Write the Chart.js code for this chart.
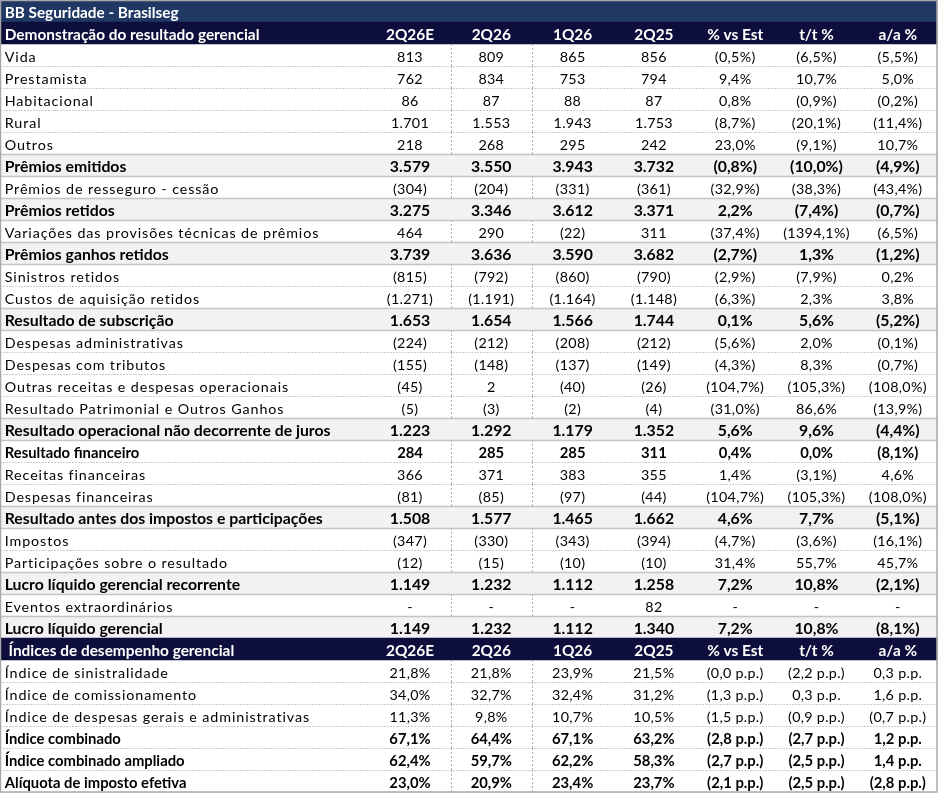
<!DOCTYPE html>
<html><head><meta charset="utf-8">
<script src="https://cdn.jsdelivr.net/npm/chart.js@4.4.1/dist/chart.umd.min.js"></script>
<style>html,body{margin:0;padding:0;background:#fff}#c{display:block}</style>
</head><body>
<canvas id="c" width="940" height="794"></canvas>
<script>
// ---------- DATA ----------
const tableTitle = 'BB Seguridade - Brasilseg';
const section1Title = 'Demonstração do resultado gerencial';
const section2Title = ' Índices de desempenho gerencial';
const columns = ['2Q26E', '2Q26', '1Q26', '2Q25', '% vs Est', 't/t %', 'a/a %'];

const incomeLabels = [
  'Vida', 'Prestamista', 'Habitacional', 'Rural', 'Outros', 'Prêmios emitidos',
  'Prêmios de resseguro - cessão', 'Prêmios retidos', 'Variações das provisões técnicas de prêmios',
  'Prêmios ganhos retidos', 'Sinistros retidos', 'Custos de aquisição retidos', 'Resultado de subscrição',
  'Despesas administrativas', 'Despesas com tributos', 'Outras receitas e despesas operacionais',
  'Resultado Patrimonial e Outros Ganhos', 'Resultado operacional não decorrente de juros',
  'Resultado financeiro', 'Receitas financeiras', 'Despesas financeiras',
  'Resultado antes dos impostos e participações', 'Impostos', 'Participações sobre o resultado',
  'Lucro líquido gerencial recorrente', 'Eventos extraordinários', 'Lucro líquido gerencial'
];
const income2Q26E = ['813','762','86','1.701','218','3.579','(304)','3.275','464','3.739','(815)','(1.271)','1.653','(224)','(155)','(45)','(5)','1.223','284','366','(81)','1.508','(347)','(12)','1.149','-','1.149'];
const income2Q26  = ['809','834','87','1.553','268','3.550','(204)','3.346','290','3.636','(792)','(1.191)','1.654','(212)','(148)','2','(3)','1.292','285','371','(85)','1.577','(330)','(15)','1.232','-','1.232'];
const income1Q26  = ['865','753','88','1.943','295','3.943','(331)','3.612','(22)','3.590','(860)','(1.164)','1.566','(208)','(137)','(40)','(2)','1.179','285','383','(97)','1.465','(343)','(10)','1.112','-','1.112'];
const income2Q25  = ['856','794','87','1.753','242','3.732','(361)','3.371','311','3.682','(790)','(1.148)','1.744','(212)','(149)','(26)','(4)','1.352','311','355','(44)','1.662','(394)','(10)','1.258','82','1.340'];
const incomeVsEst = ['(0,5%)','9,4%','0,8%','(8,7%)','23,0%','(0,8%)','(32,9%)','2,2%','(37,4%)','(2,7%)','(2,9%)','(6,3%)','0,1%','(5,6%)','(4,3%)','(104,7%)','(31,0%)','5,6%','0,4%','1,4%','(104,7%)','4,6%','(4,7%)','31,4%','7,2%','-','7,2%'];
const incomeQoQ   = ['(6,5%)','10,7%','(0,9%)','(20,1%)','(9,1%)','(10,0%)','(38,3%)','(7,4%)','(1394,1%)','1,3%','(7,9%)','2,3%','5,6%','2,0%','8,3%','(105,3%)','86,6%','9,6%','0,0%','(3,1%)','(105,3%)','7,7%','(3,6%)','55,7%','10,8%','-','10,8%'];
const incomeYoY   = ['(5,5%)','5,0%','(0,2%)','(11,4%)','10,7%','(4,9%)','(43,4%)','(0,7%)','(6,5%)','(1,2%)','0,2%','3,8%','(5,2%)','(0,1%)','(0,7%)','(108,0%)','(13,9%)','(4,4%)','(8,1%)','4,6%','(108,0%)','(5,1%)','(16,1%)','45,7%','(2,1%)','-','(8,1%)'];

const ratioLabels = [
  'Índice de sinistralidade', 'Índice de comissionamento', 'Índice de despesas gerais e administrativas',
  'Índice combinado', 'Índice combinado ampliado', 'Alíquota de imposto efetiva'
];
const ratio2Q26E = ['21,8%','34,0%','11,3%','67,1%','62,4%','23,0%'];
const ratio2Q26  = ['21,8%','32,7%','9,8%','64,4%','59,7%','20,9%'];
const ratio1Q26  = ['23,9%','32,4%','10,7%','67,1%','62,2%','23,4%'];
const ratio2Q25  = ['21,5%','31,2%','10,5%','63,2%','58,3%','23,7%'];
const ratioVsEst = ['(0,0 p.p.)','(1,3 p.p.)','(1,5 p.p.)','(2,8 p.p.)','(2,7 p.p.)','(2,1 p.p.)'];
const ratioQoQ   = ['(2,2 p.p.)','0,3 p.p.','(0,9 p.p.)','(2,7 p.p.)','(2,5 p.p.)','(2,5 p.p.)'];
const ratioYoY   = ['0,3 p.p.','1,6 p.p.','(0,7 p.p.)','1,2 p.p.','1,4 p.p.','(2,8 p.p.)'];

// ---------- STYLES (row kinds: n normal, g bold shaded, b bold) ----------
const incomeKinds = ['n','n','n','n','n','g','n','g','n','g','n','n','g','n','n','n','n','g','b','n','n','g','n','n','g','n','g'];
const ratioKinds  = ['n','n','n','b','b','b'];

const FILL = { t: '#203864', h: '#0e0e3c', g: '#f2f2f2' };
const FONT = 'Lato';
const X_MIN = -5.043, X_MAX = 6.519;   // linear x scale: column index units
const LABEL_POS = -4.985;              // label column anchor
const FRAME_RIGHT = 6.482;

// ---------- BUILD ROWS ----------
const rows = [];
rows.push({ label: tableTitle, kind: 't', cells: [] });
rows.push({ label: section1Title, kind: 'h', cells: columns });
incomeLabels.forEach((l, i) => rows.push({ label: l, kind: incomeKinds[i],
  cells: [income2Q26E[i], income2Q26[i], income1Q26[i], income2Q25[i], incomeVsEst[i], incomeQoQ[i], incomeYoY[i]] }));
rows.push({ label: section2Title, kind: 'h', cells: columns });
ratioLabels.forEach((l, i) => rows.push({ label: l, kind: ratioKinds[i],
  cells: [ratio2Q26E[i], ratio2Q26[i], ratio1Q26[i], ratio2Q25[i], ratioVsEst[i], ratioQoQ[i], ratioYoY[i]] }));

const tablePlugin = {
  id: 'tableText',
  afterDatasetsDraw(chart) {
    const ctx = chart.ctx, xs = chart.scales.x, ys = chart.scales.y;
    const n = rows.length;
    const rowH = Math.abs(ys.getPixelForValue(1) - ys.getPixelForValue(0));
    const left = xs.getPixelForValue(X_MIN) + 0.5, right = xs.getPixelForValue(FRAME_RIGHT);
    ctx.save();
    // horizontal separators
    for (let i = 0; i < n - 1; i++) {
      const a = rows[i].kind, b = rows[i + 1].kind;
      if (a === 't' || a === 'h' || b === 't' || b === 'h') continue;
      const y = Math.round((ys.getPixelForValue(i) + ys.getPixelForValue(i + 1)) / 2) + 0.5;
      ctx.beginPath();
      if (a === 'g' || b === 'g') { ctx.setLineDash([]); ctx.strokeStyle = '#c4c4c4'; ctx.lineWidth = 1.5; }
      else { ctx.setLineDash([1, 2]); ctx.strokeStyle = '#9a9a9a'; ctx.lineWidth = 1; }
      ctx.moveTo(left, y); ctx.lineTo(right, y); ctx.stroke();
    }
    // vertical dotted lines between first columns (white rows)
    ctx.setLineDash([2, 2]); ctx.strokeStyle = '#b0b0b0'; ctx.lineWidth = 1;
    [0.5, 1.5].forEach(v => {
      const x = Math.round(xs.getPixelForValue(v)) + 0.5;
      rows.forEach((r, i) => {
        if (r.kind !== 'n' && r.kind !== 'b') return;
        const yc = ys.getPixelForValue(i);
        ctx.beginPath(); ctx.moveTo(x, yc - rowH / 2); ctx.lineTo(x, yc + rowH / 2); ctx.stroke();
      });
    });
    ctx.setLineDash([]);
    // frame
    ctx.strokeStyle = '#a8a8a8'; ctx.lineWidth = 1.5;
    const top = ys.getPixelForValue(0) - rowH / 2, bottom = ys.getPixelForValue(n - 1) + rowH / 2;
    ctx.strokeRect(left, top + 0.5, right - left, bottom - top - 0.5);
    // text
    ctx.textBaseline = 'middle';
    rows.forEach((r, i) => {
      const y = ys.getPixelForValue(i) + 2;
      let font, color = '#000', spacing = '0px';
      if (r.kind === 't') { font = `bold 15.3px ${FONT}`; color = '#fff'; }
      else if (r.kind === 'h') { font = `bold 15.4px ${FONT}`; color = '#fff'; }
      else if (r.kind === 'g') { font = `bold 15.8px ${FONT}`; }
      else if (r.kind === 'b') { font = `bold 14.8px ${FONT}`; }
      else { font = `14.3px ${FONT}`; spacing = '0.9px'; }
      ctx.font = font; ctx.fillStyle = color;
      ctx.textAlign = 'left';
      ctx.letterSpacing = spacing;
      ctx.fillText(r.label, xs.getPixelForValue(LABEL_POS), y);
      ctx.letterSpacing = (r.kind === 'n') ? '0.3px' : '0px';
      ctx.textAlign = 'center';
      r.cells.forEach((c, j) => ctx.fillText(c, xs.getPixelForValue(j), y));
    });
    ctx.restore();
  }
};

new Chart(document.getElementById('c'), {
  type: 'bar',
  data: {
    labels: rows.map(r => r.label),
    datasets: [{
      data: rows.map(r => FILL[r.kind] ? [X_MIN, FRAME_RIGHT] : null),
      backgroundColor: rows.map(r => FILL[r.kind] || 'rgba(0,0,0,0)'),
      borderWidth: 0, borderSkipped: false,
      barPercentage: 1, categoryPercentage: 1
    }]
  },
  options: {
    indexAxis: 'y',
    responsive: false, animation: false, devicePixelRatio: 1,
    layout: { padding: { left: 0, right: 0, top: 0, bottom: 2 } },
    plugins: { legend: { display: false }, tooltip: { enabled: false } },
    scales: {
      x: { type: 'linear', min: X_MIN, max: X_MAX, display: false },
      y: { type: 'category', display: false, offset: true, grid: { display: false } }
    }
  },
  plugins: [tablePlugin]
});
</script>
</body></html>
